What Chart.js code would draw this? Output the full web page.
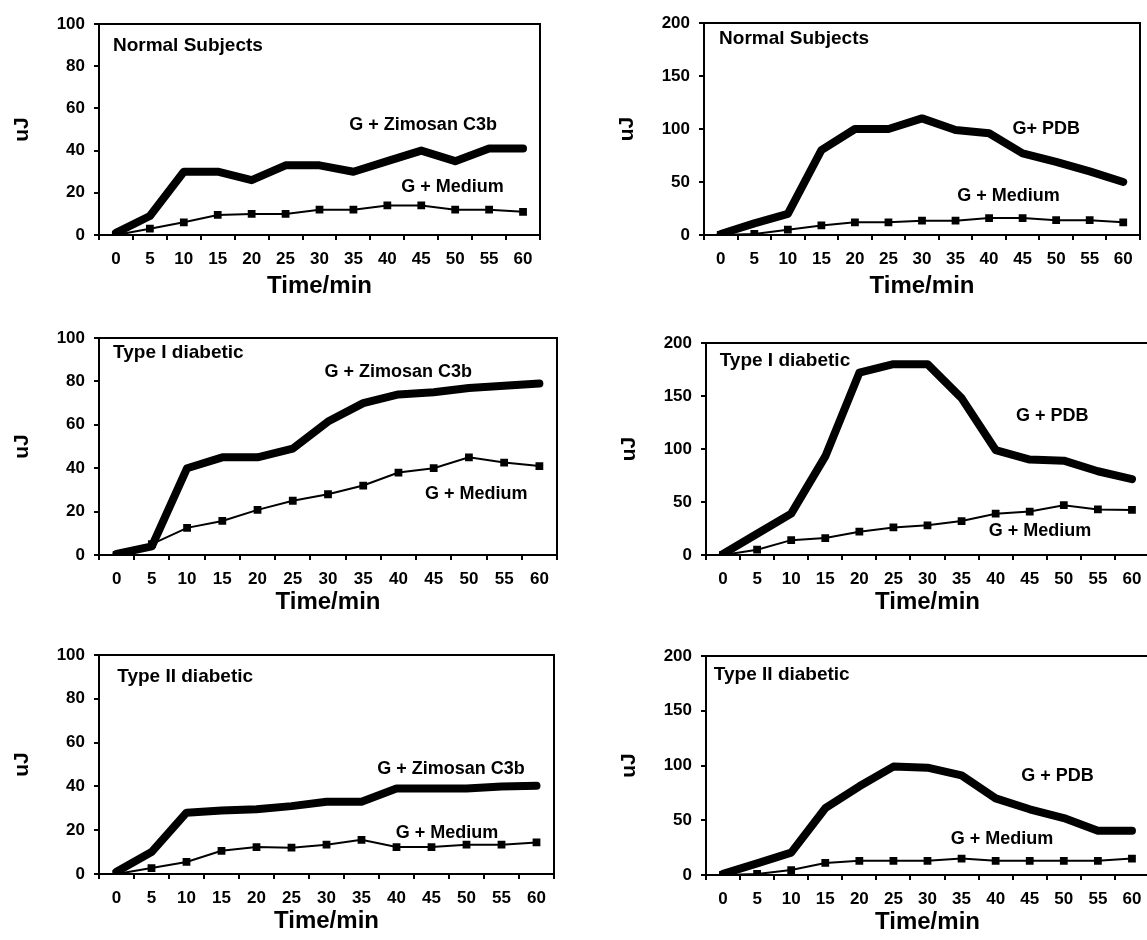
<!DOCTYPE html>
<html>
<head>
<meta charset="utf-8">
<script src="https://cdn.jsdelivr.net/npm/chart.js@4"></script>
<style>
  html, body { margin: 0; padding: 0; background: #fff; overflow: hidden; }
  body { width: 1147px; height: 940px; position: relative; }
  .panel { position: absolute; }
</style>
</head>
<body>
<script>
// Time axis (minutes)
const timeLabels = ['0', '5', '10', '15', '20', '25', '30', '35', '40', '45', '50', '55', '60'];

// Normal subjects
const normalZimosan = [1, 9, 30, 30, 26, 33, 33, 30, 35, 40, 35, 41, 41];
const normalZimosanMedium = [0, 3, 6, 9.5, 10, 10, 12, 12, 14, 14, 12, 12, 11];
const normalPDB = [1, 11, 20, 80, 100, 100, 110, 99, 96, 77, 69, 60, 50];
const normalPDBMedium = [0, 1, 5, 9, 12, 12, 13.5, 13.5, 16, 16, 14, 14, 12];

// Type I diabetic
const type1Zimosan = [0.5, 4, 40, 45, 45, 49, 61.5, 70, 74, 75, 77, 78, 79];
const type1ZimosanMedium = [0, 5, 12.5, 15.7, 20.8, 25, 28, 32, 38, 40, 45, 42.6, 41];
const type1PDB = [1, 20, 39, 93, 172, 180, 180, 148, 99, 90, 89, 79, 71.5];
const type1PDBMedium = [0, 5, 14, 16, 22, 26, 28, 32, 39, 41, 47, 43, 42.5];

// Type II diabetic
const type2Zimosan = [1, 10, 28, 29, 29.6, 31, 33, 33, 39, 39, 39, 40, 40.3];
const type2ZimosanMedium = [0, 2.7, 5.5, 10.6, 12.3, 12, 13.4, 15.6, 12.3, 12.3, 13.4, 13.4, 14.4];
const type2PDB = [1, 10.6, 20.4, 61, 81, 99, 98, 91, 70, 60, 52, 40.5, 40.5];
const type2PDBMedium = [0, 1, 4.5, 11, 13, 13, 13, 15, 13, 13, 13, 13, 15];

// Panel layout: plot area in page pixels, text positions in (category index, value)
const panels = [
    { plot: { left: 99, right: 540, top: 24, bottom: 235 }, xAxisH: 70, yMax: 100, yStep: 20,
      series: [normalZimosan, normalZimosanMedium],
      texts: [
          { text: 'Normal Subjects', x: -0.09, y: 89.6, title: true },
          { text: 'G + Zimosan C3b', x: 6.88, y: 52 },
          { text: 'G + Medium', x: 8.41, y: 22.7 }
      ] },
    { plot: { left: 704, right: 1140, top: 23, bottom: 235 }, xAxisH: 70, yMax: 200, yStep: 50,
      series: [normalPDB, normalPDBMedium],
      texts: [
          { text: 'Normal Subjects', x: -0.05, y: 185, title: true },
          { text: 'G+ PDB', x: 8.7, y: 100 },
          { text: 'G + Medium', x: 7.05, y: 37 }
      ] },
    { plot: { left: 99, right: 557, top: 338, bottom: 555 }, xAxisH: 66, yMax: 100, yStep: 20,
      series: [type1Zimosan, type1ZimosanMedium],
      texts: [
          { text: 'Type I diabetic', x: -0.1, y: 93, title: true },
          { text: 'G + Zimosan C3b', x: 5.9, y: 84.5 },
          { text: 'G + Medium', x: 8.75, y: 28 }
      ] },
    { plot: { left: 706, right: 1149, top: 343, bottom: 555 }, xAxisH: 66, yMax: 200, yStep: 50,
      series: [type1PDB, type1PDBMedium],
      texts: [
          { text: 'Type I diabetic', x: -0.1, y: 183, title: true },
          { text: 'G + PDB', x: 8.6, y: 131 },
          { text: 'G + Medium', x: 7.8, y: 22.5 }
      ] },
    { plot: { left: 99, right: 554, top: 655, bottom: 874 }, xAxisH: 66, yMax: 100, yStep: 20,
      series: [type2Zimosan, type2ZimosanMedium],
      texts: [
          { text: 'Type II diabetic', x: 0.02, y: 90, title: true },
          { text: 'G + Zimosan C3b', x: 7.45, y: 48 },
          { text: 'G + Medium', x: 7.98, y: 18.7 }
      ] },
    { plot: { left: 706, right: 1149, top: 656, bottom: 875 }, xAxisH: 66, yMax: 200, yStep: 50,
      series: [type2PDB, type2PDBMedium],
      texts: [
          { text: 'Type II diabetic', x: -0.27, y: 183, title: true },
          { text: 'G + PDB', x: 8.75, y: 90 },
          { text: 'G + Medium', x: 6.68, y: 33 }
      ] }
];

const Y_AXIS_W = 93;
const PAD_TOP = 20;
const PAD_RIGHT = 8;
const FONT = '"Liberation Sans", Arial, sans-serif';

Chart.defaults.font.family = FONT;
Chart.defaults.color = '#000';

// Top and right frame of the plot area
const framePlugin = {
    id: 'frame',
    afterDraw(chart) {
        const { ctx, chartArea: a } = chart;
        ctx.save();
        ctx.strokeStyle = '#000';
        ctx.lineWidth = 2;
        ctx.beginPath();
        ctx.moveTo(a.left, a.top);
        ctx.lineTo(a.right, a.top);
        ctx.lineTo(a.right, a.bottom);
        ctx.stroke();
        ctx.restore();
    }
};

// Text labels inside the plot, placed through the scales
const textPlugin = {
    id: 'panelText',
    afterDatasetsDraw(chart, args, opts) {
        const { ctx } = chart;
        const xs = chart.scales.x, ys = chart.scales.y;
        ctx.save();
        ctx.fillStyle = '#000';
        ctx.textAlign = 'left';
        ctx.textBaseline = 'middle';
        for (const t of opts.items) {
            ctx.font = (t.title ? 'bold 19px ' : 'bold 18px ') + FONT;
            ctx.fillText(t.text, xs.getPixelForValue(t.x), ys.getPixelForValue(t.y));
        }
        ctx.restore();
    }
};

const createPanel = (p) => {
    // Canvas box so that the chart area lands on the plot rectangle
    const left = p.plot.left - Y_AXIS_W;
    const top = p.plot.top - PAD_TOP;
    const width = p.plot.right + PAD_RIGHT - left;
    const height = p.plot.bottom + p.xAxisH - top;

    const div = document.createElement('div');
    div.className = 'panel';
    div.style.left = left + 'px';
    div.style.top = top + 'px';
    div.style.width = width + 'px';
    div.style.height = height + 'px';
    const canvas = document.createElement('canvas');
    div.appendChild(canvas);
    document.body.appendChild(div);

    new Chart(canvas.getContext('2d'), {
        type: 'line',
        data: {
            labels: timeLabels,
            datasets: [
                {
                    data: p.series[0],
                    borderColor: '#000',
                    backgroundColor: '#000',
                    borderWidth: 8,
                    borderJoinStyle: 'round',
                    borderCapStyle: 'round',
                    pointRadius: 0,
                    tension: 0
                },
                {
                    data: p.series[1],
                    borderColor: '#000',
                    backgroundColor: '#000',
                    borderWidth: 2,
                    pointStyle: 'rect',
                    pointRadius: 5.5,
                    pointBorderWidth: 0,
                    pointBackgroundColor: '#000',
                    tension: 0
                }
            ]
        },
        options: {
            responsive: true,
            maintainAspectRatio: false,
            animation: false,
            layout: { padding: { top: PAD_TOP, right: PAD_RIGHT, left: 0, bottom: 0 } },
            plugins: {
                legend: { display: false },
                tooltip: { enabled: false },
                panelText: { items: p.texts }
            },
            scales: {
                x: {
                    type: 'category',
                    offset: true,
                    grid: { offset: true, drawOnChartArea: false, drawTicks: true, tickLength: 5, color: '#000', lineWidth: 2 },
                    border: { color: '#000', width: 2 },
                    ticks: { font: { size: 17, weight: 'bold' }, padding: 9, maxRotation: 0, autoSkip: false },
                    title: { display: true, text: 'Time/min', font: { size: 24, weight: 'bold' } },
                    afterFit: (s) => { s.height = p.xAxisH; }
                },
                y: {
                    min: 0,
                    max: p.yMax,
                    grid: { drawOnChartArea: false, drawTicks: true, tickLength: 5, color: '#000', lineWidth: 2 },
                    border: { color: '#000', width: 2 },
                    ticks: { stepSize: p.yStep, font: { size: 17, weight: 'bold' }, padding: 9 },
                    title: { display: true, text: 'uJ', font: { size: 21, weight: 'bold' } },
                    afterFit: (s) => { s.width = Y_AXIS_W; }
                }
            }
        },
        plugins: [framePlugin, textPlugin]
    });
};

panels.forEach(createPanel);
</script>
</body>
</html>
